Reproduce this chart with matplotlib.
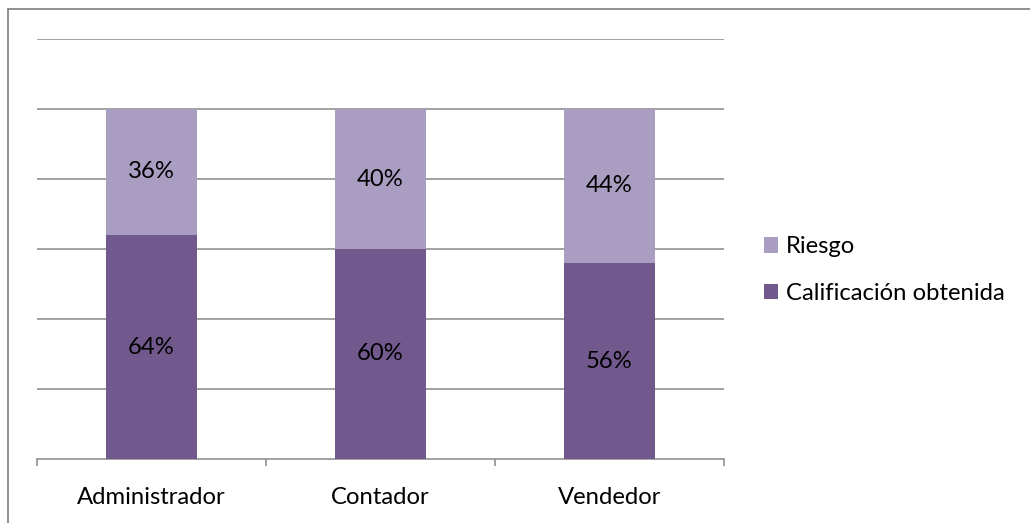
import numpy as np
import matplotlib
matplotlib.use("Agg")
from matplotlib import pyplot as plt
from matplotlib.lines import Line2D

plt.rcParams["font.family"] = ["Lato", "DejaVu Sans"]

# data
categories = ["Administrador", "Contador", "Vendedor"]
calificacion = [0.64, 0.60, 0.56]
riesgo = [0.36, 0.40, 0.44]
series_names = ["Calificación obtenida", "Riesgo"]

dark = "#71598E"
light = "#AA9DC2"
grid_col = "#878787"
fs = 17.2

W, H = 1030, 523
fig = plt.figure(figsize=(W / 100, H / 100), dpi=100)

# outer chart border (top and left edges visible)
fig.add_artist(Line2D([8 / W, 8 / W], [0, 1 - 9 / H], color=grid_col, lw=1.3, transform=fig.transFigure))
fig.add_artist(Line2D([8 / W, 1], [1 - 9 / H, 1 - 9 / H], color=grid_col, lw=1.3, transform=fig.transFigure))

left, right = 37 / W, 724 / W
bottom, top = 1 - 459 / H, 1 - 39 / H
ax = fig.add_axes([left, bottom, right - left, top - bottom])

x = np.arange(len(categories))
bw = 0.4
b1 = ax.bar(x, calificacion, bw, color=dark, label=series_names[0], zorder=3)
b2 = ax.bar(x, riesgo, bw, bottom=calificacion, color=light, label=series_names[1], zorder=3)

for bars, vals, base in [(b1, calificacion, [0] * 3), (b2, riesgo, calificacion)]:
    for rect, v, b in zip(bars, vals, base):
        ax.text(rect.get_x() + rect.get_width() / 2, b + v / 2, f"{round(v * 100)}%",
                ha="center", va="center", fontsize=fs, color="#000000", zorder=4)

ax.set_xlim(-0.5, len(categories) - 0.5)
ax.set_ylim(0, 1.2)
ax.set_yticks(np.arange(0.2, 1.21, 0.2))
ax.yaxis.grid(True, color=grid_col, lw=1.1, zorder=0)
ax.tick_params(axis="y", left=False, labelleft=False)

# category boundary ticks
ax.set_xticks(np.arange(-0.5, len(categories), 1.0))
ax.set_xticklabels([])
ax.set_xticks(x, minor=True)
ax.set_xticklabels(categories, minor=True, fontsize=fs)
ax.tick_params(axis="x", which="major", direction="out", length=5, width=1.1, color=grid_col)
ax.tick_params(axis="x", which="minor", length=0, pad=20)

for s in ["top", "right", "left"]:
    ax.spines[s].set_visible(False)
ax.spines["bottom"].set_color(grid_col)
ax.spines["bottom"].set_linewidth(1.1)

handles, labels = ax.get_legend_handles_labels()
fig.legend(handles[::-1], labels[::-1], loc="center left",
           bbox_to_anchor=(764 / W, 1 - 270 / H), frameon=False,
           fontsize=fs, handlelength=0.6, handleheight=0.6,
           handletextpad=0.3, labelspacing=1.05, borderaxespad=0, borderpad=0)

fig.savefig("out.png", dpi=100)
